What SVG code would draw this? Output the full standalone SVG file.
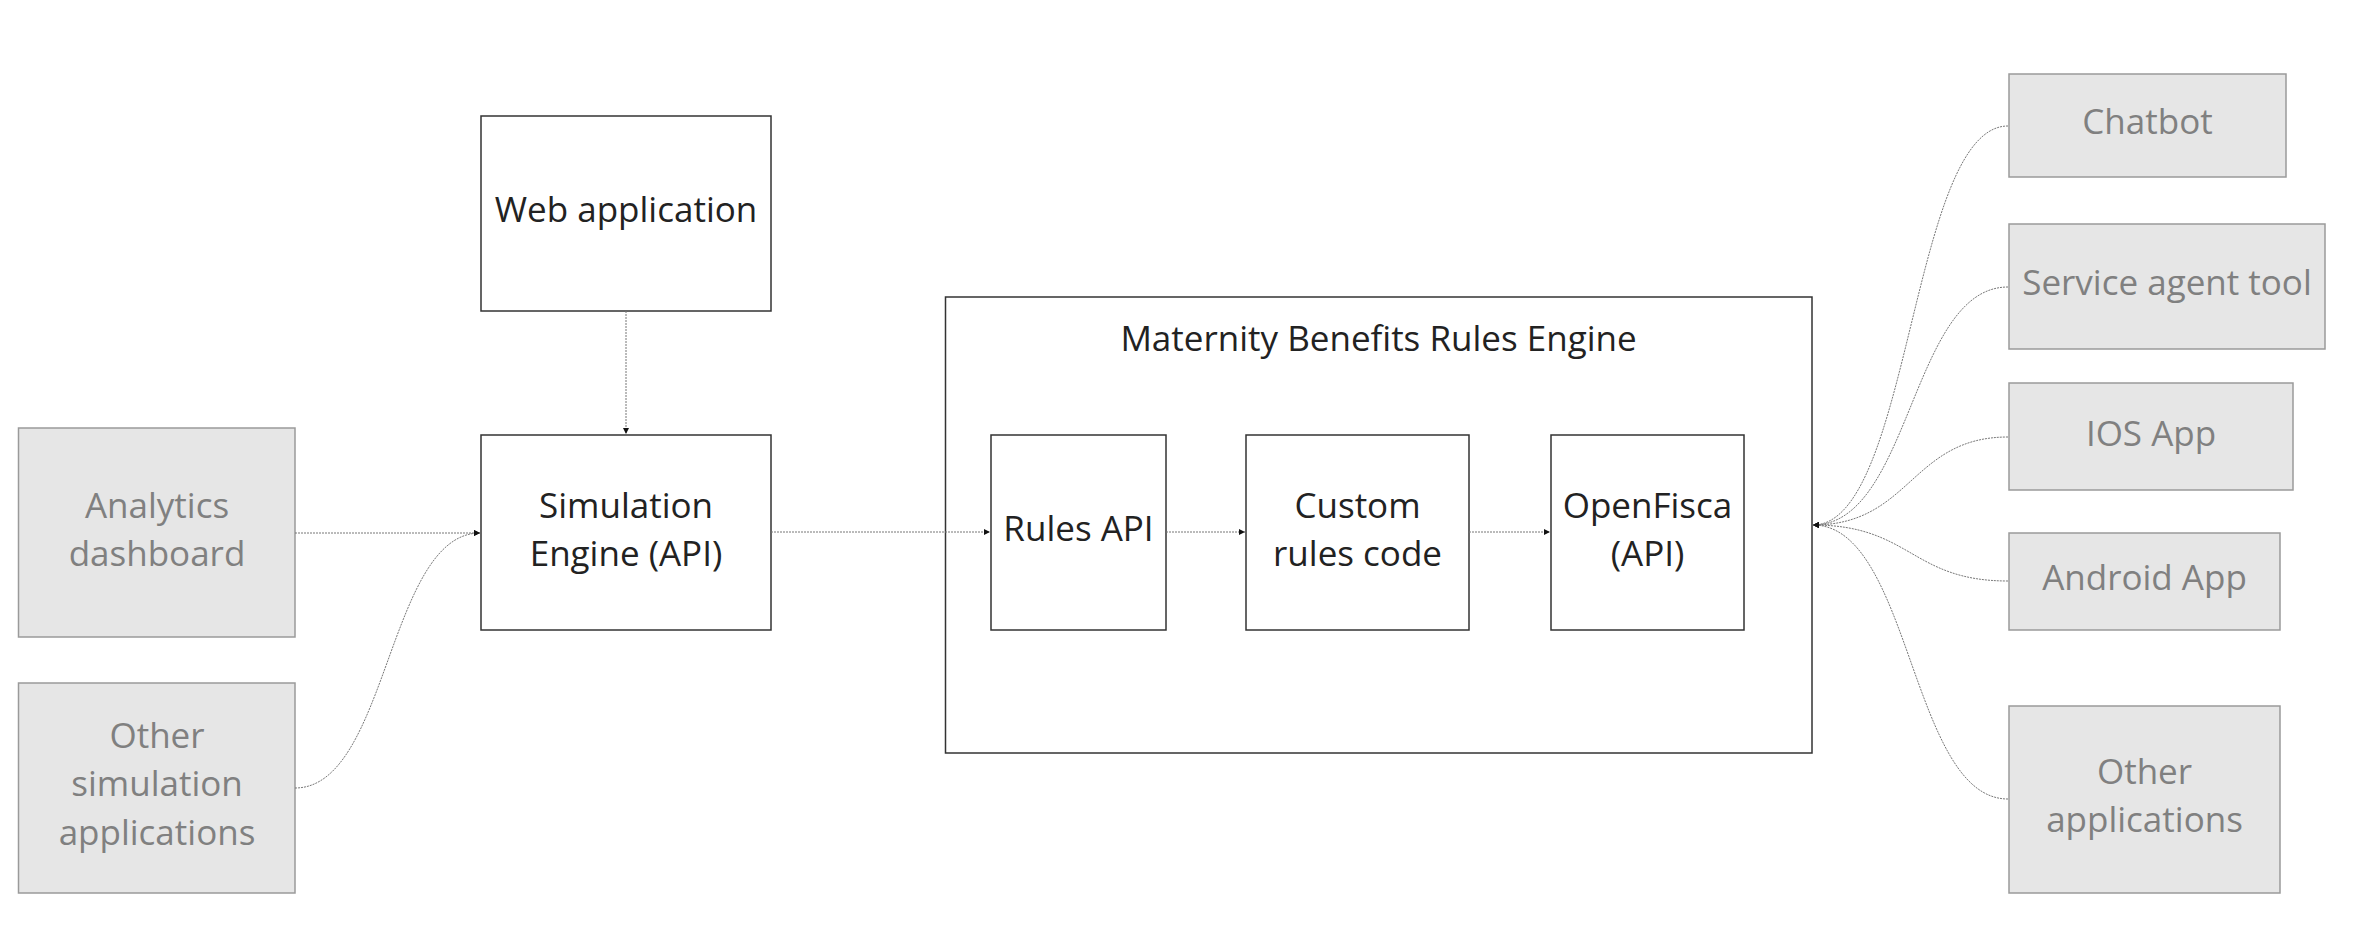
<svg xmlns="http://www.w3.org/2000/svg" width="2367" height="950" viewBox="0 0 2367 950">
<defs>
<marker id="ah" viewBox="0 0 10 10" refX="10" refY="5" markerWidth="7" markerHeight="6" markerUnits="userSpaceOnUse" orient="auto"><path d="M0,0 L10,5 L0,10 z" fill="#111"/></marker>
<style>
.w{fill:#fff;stroke:#333;stroke-width:1.5}
.g{fill:#e6e6e6;stroke:#9a9a9a;stroke-width:1.5}
.t{font-family:"Open Sans","Liberation Sans",sans-serif;font-size:35px;text-anchor:middle;fill:#222}
.tg{font-family:"Open Sans","Liberation Sans",sans-serif;font-size:35px;text-anchor:middle;fill:#808080}
.c{fill:none;stroke:#777;stroke-width:1;stroke-dasharray:2 1;marker-end:url(#ah)}
</style>
</defs>
<rect width="2367" height="950" fill="#fff"/>
<g id="maternity-engine"><rect class="w" x="945.5" y="297" width="866.5" height="456"/><text class="t" x="1378.5" y="351">Maternity Benefits Rules Engine</text></g>
<g id="web-app"><rect class="w" x="481" y="116" width="290" height="195"/><text class="t" x="626" y="222">Web application</text></g>
<g id="simulation-engine"><rect class="w" x="481" y="435" width="290" height="195"/><text class="t" x="626" y="518">Simulation</text><text class="t" x="626" y="566">Engine (API)</text></g>
<g id="analytics"><rect class="g" x="18.5" y="428" width="276.5" height="209"/><text class="tg" x="157" y="518">Analytics</text><text class="tg" x="157" y="566">dashboard</text></g>
<g id="other-sim"><rect class="g" x="18.5" y="683" width="276.5" height="210"/><text class="tg" x="157" y="748">Other</text><text class="tg" x="157" y="796">simulation</text><text class="tg" x="157" y="845">applications</text></g>
<g id="rules-api"><rect class="w" x="991" y="435" width="175" height="195"/><text class="t" x="1078.5" y="541">Rules API</text></g>
<g id="custom-rules"><rect class="w" x="1246" y="435" width="223" height="195"/><text class="t" x="1357.5" y="518">Custom</text><text class="t" x="1357.5" y="566">rules code</text></g>
<g id="openfisca"><rect class="w" x="1551" y="435" width="193" height="195"/><text class="t" x="1647.5" y="518">OpenFisca</text><text class="t" x="1647.5" y="566">(API)</text></g>
<g id="chatbot"><rect class="g" x="2009" y="74" width="277" height="103"/><text class="tg" x="2147.5" y="134">Chatbot</text></g>
<g id="service-agent"><rect class="g" x="2009" y="224" width="316" height="125"/><text class="tg" x="2167" y="295">Service agent tool</text></g>
<g id="ios-app"><rect class="g" x="2009" y="383" width="284" height="107"/><text class="tg" x="2151" y="446">IOS App</text></g>
<g id="android-app"><rect class="g" x="2009" y="533" width="271" height="97"/><text class="tg" x="2144.5" y="590">Android App</text></g>
<g id="other-apps"><rect class="g" x="2009" y="706" width="271" height="187"/><text class="tg" x="2144.5" y="784">Other</text><text class="tg" x="2144.5" y="832">applications</text></g>
<g id="connectors">
<path class="c" d="M626,311 L626,434"/>
<path class="c" d="M295,533 L480,533"/>
<path class="c" d="M295,788 C388,788 388,533 480,533"/>
<path class="c" d="M771,532 L990,532"/>
<path class="c" d="M1166,532 L1245,532"/>
<path class="c" d="M1469,532 L1550,532"/>
<path class="c" d="M2008,126 C1911,126 1911,525 1813,525"/>
<path class="c" d="M2008,287 C1911,287 1911,525 1813,525"/>
<path class="c" d="M2008,437 C1911,437 1911,525 1813,525"/>
<path class="c" d="M2008,581 C1911,581 1911,525 1813,525"/>
<path class="c" d="M2008,799 C1911,799 1911,525 1813,525"/>
</g>
</svg>
